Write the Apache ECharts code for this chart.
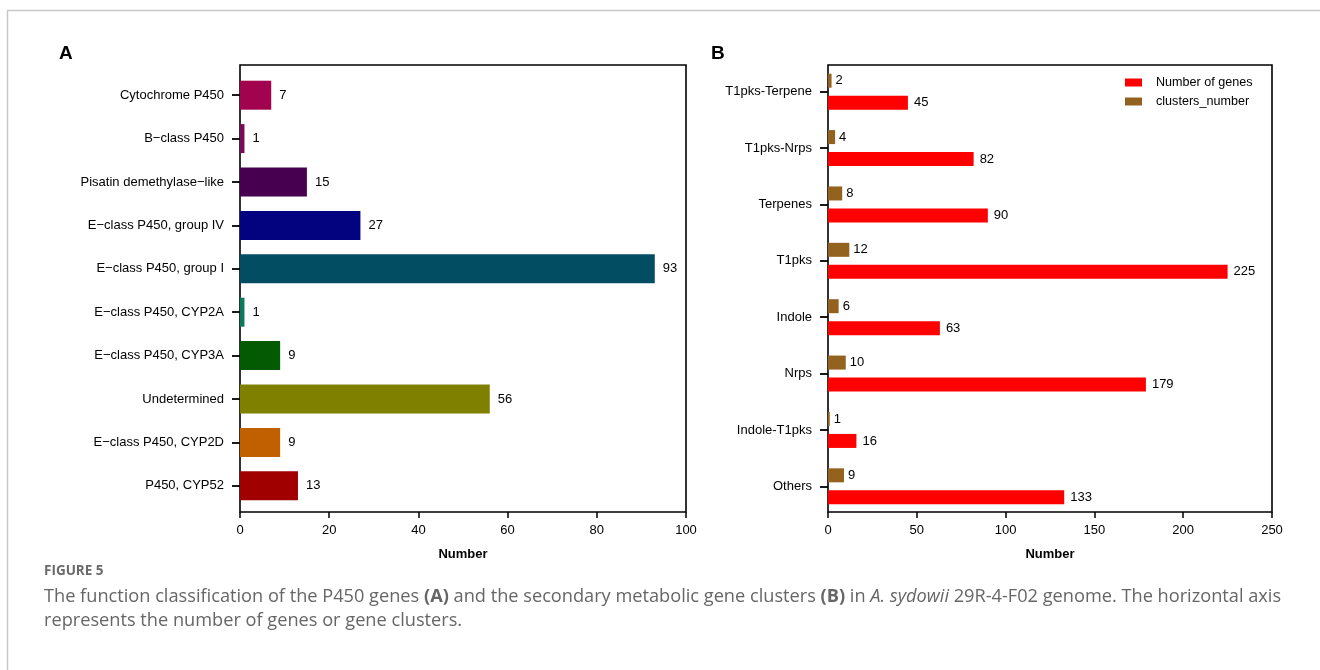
<!DOCTYPE html>
<html><head><meta charset="utf-8">
<script src="https://cdn.jsdelivr.net/npm/echarts@6/dist/echarts.min.js"></script>
<style>html,body{margin:0;padding:0;background:#fff;}#c{width:1320px;height:670px;}</style>
</head><body><div id="c"></div>
<script>
// Panel A data
const categoriesA = ['Cytochrome P450','B\u2212class P450','Pisatin demethylase\u2212like','E\u2212class P450, group IV','E\u2212class P450, group I','E\u2212class P450, CYP2A','E\u2212class P450, CYP3A','Undetermined','E\u2212class P450, CYP2D','P450, CYP52'];
const valuesA = [7,1,15,27,93,1,9,56,9,13];
const colorsA = ['#a1034f','#7a0a5c','#46004f','#03037f','#034d63','#0b7a5c','#035a03','#808000','#c06000','#a00000'];
const ticksA = {min:0,max:100,interval:20};
// Panel B data
const categoriesB = ['T1pks-Terpene','T1pks-Nrps','Terpenes','T1pks','Indole','Nrps','Indole-T1pks','Others'];
const genesB = [45,82,90,225,63,179,16,133];
const clustersB = [2,4,8,12,6,10,1,9];
const ticksB = {min:0,max:250,interval:50};
const seriesNamesB = ['Number of genes','clusters_number'];

const FONT = 'Liberation Sans, Arial, sans-serif';
const CAP = 'Open Sans, sans-serif';
const chart = echarts.init(document.getElementById('c'), null, {renderer:'canvas'});

const frameGrid = (left, width) => ({left:left, top:65, width:width, height:447, show:true, borderColor:'#000', borderWidth:1.6, backgroundColor:'transparent', containLabel:false});

const labelStyle = {show:true, position:'right', distance:8, color:'#000', fontSize:13, fontFamily:FONT};

const xAxisVisible = (grid, t) => ({gridIndex:grid, type:'value', min:t.min, max:t.max, interval:t.interval,
  axisLine:{show:false}, splitLine:{show:false},
  axisTick:{show:true, length:6, lineStyle:{color:'#000', width:1.5}},
  axisLabel:{color:'#000', fontSize:13, margin:12, fontFamily:FONT},
  name:'Number', nameLocation:'middle', nameGap:36, nameTextStyle:{color:'#000', fontWeight:'bold', fontSize:13, fontFamily:FONT}});

const yAxisCat = (grid, cats) => ({gridIndex:grid, type:'category', inverse:true, data:cats,
  axisLine:{show:false}, axisTick:{show:true, alignWithLabel:true, length:8, lineStyle:{color:'#000', width:1.8}},
  axisLabel:{color:'#000', fontSize:13, margin:16, fontFamily:FONT}});

const option = {
  animation:false,
  textStyle:{fontFamily:FONT},
  grid:[
    frameGrid(240,446),
    {left:240, top:73.5, width:446, height:434},
    frameGrid(828,444),
    {left:828, top:63.5, width:444, height:451}
  ],
  xAxis:[
    xAxisVisible(0, ticksA),
    {gridIndex:1, type:'value', min:ticksA.min, max:ticksA.max, show:false},
    xAxisVisible(2, ticksB),
    {gridIndex:3, type:'value', min:ticksB.min, max:ticksB.max, show:false}
  ],
  yAxis:[
    {gridIndex:0, type:'value', show:false},
    yAxisCat(1, categoriesA),
    {gridIndex:2, type:'value', show:false},
    yAxisCat(3, categoriesB)
  ],
  legend:{
    data:seriesNamesB, orient:'vertical', left:1125, top:76, padding:0, icon:'rect',
    itemWidth:17, itemHeight:8, itemGap:6,
    textStyle:{color:'#000', fontSize:12.6, fontFamily:FONT, padding:[0,0,0,9]}
  },
  series:[
    {type:'bar', xAxisIndex:1, yAxisIndex:1, barWidth:29,
     data: valuesA.map((v,i)=>({value:v, itemStyle:{color:colorsA[i]}})),
     label:labelStyle},
    {type:'bar', name:seriesNamesB[1], xAxisIndex:3, yAxisIndex:3, barWidth:14, barGap:'57%',
     itemStyle:{color:'#94621f'}, data:clustersB, label:Object.assign({}, labelStyle, {distance:4})},
    {type:'bar', name:seriesNamesB[0], xAxisIndex:3, yAxisIndex:3, barWidth:14, barGap:'57%',
     itemStyle:{color:'#ff0000'}, data:genesB, label:Object.assign({}, labelStyle, {distance:6})}
  ],
  graphic:[
    {type:'line', shape:{x1:7,y1:10.5,x2:1320,y2:10.5}, style:{stroke:'#c8c8c8', lineWidth:1.5}, silent:true},
    {type:'line', shape:{x1:7.5,y1:10,x2:7.5,y2:670}, style:{stroke:'#c8c8c8', lineWidth:1.5}, silent:true},
    {type:'text', left:59, top:44, style:{text:'A', fontSize:19, fontWeight:'bold', fill:'#000', fontFamily:FONT}},
    {type:'text', left:711, top:44, style:{text:'B', fontSize:19, fontWeight:'bold', fill:'#000', fontFamily:FONT}},
    {type:'text', left:44, top:564, style:{text:'FIGURE 5', fontSize:13.5, fontWeight:'bold', fill:'#6a6a6a', fontFamily:CAP}},
    {type:'text', left:44, top:585, style:{
      text:'The function classification of the P450 genes {b|(A)} and the secondary metabolic gene clusters {b|(B)} in {i|A. sydowii} 29R-4-F02 genome. The horizontal axis\nrepresents the number of genes or gene clusters.',
      fontSize:18.2, lineHeight:24, fill:'#666', fontFamily:CAP,
      rich:{b:{fontWeight:'bold', fontSize:18.2, fill:'#666', fontFamily:CAP}, i:{fontStyle:'italic', fontSize:18.2, fill:'#666', fontFamily:CAP}}
    }}
  ]
};
chart.setOption(option);
</script></body></html>
